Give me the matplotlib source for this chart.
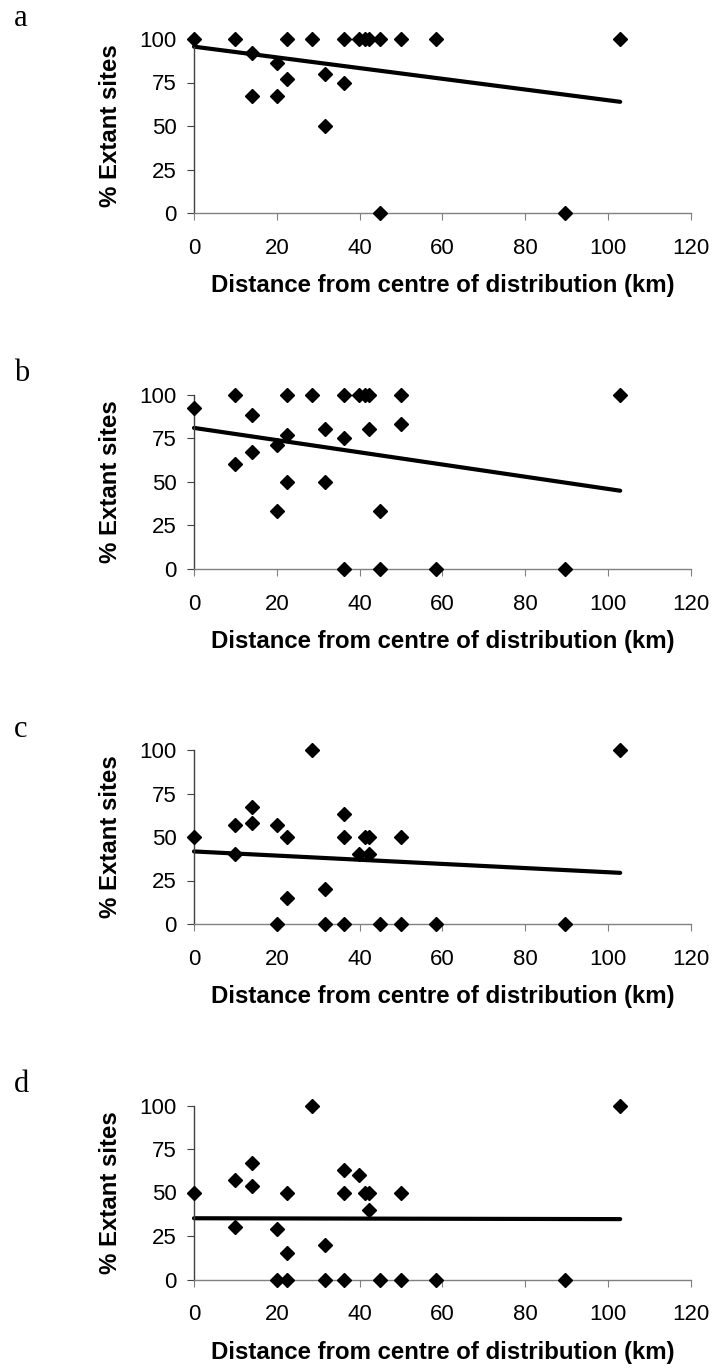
import numpy as np
import matplotlib
matplotlib.use("Agg")
import matplotlib.pyplot as plt

# distances (km) and % extant sites
dist_a = [0, 10, 14.1, 14.1, 20, 20, 22.4, 22.4, 28.4, 31.6, 31.6, 36.1, 36.1,
          39.9, 41.2, 42.3, 44.8, 44.8, 50.1, 58.4, 89.6, 102.9]
pct_a = [100, 100, 92, 67, 86, 67, 100, 77, 100, 80, 50, 100, 75,
         100, 100, 100, 100, 0, 100, 100, 0, 100]

dist_b = [0, 10, 10, 14.1, 14.1, 20, 20, 22.4, 22.4, 22.4, 28.4, 31.6, 31.6,
          36.1, 36.1, 36.1, 39.9, 41.2, 42.3, 42.3, 44.8, 44.8, 50.1, 50.1,
          58.4, 89.6, 102.9]
pct_b = [92, 100, 60, 88, 67, 71, 33, 100, 77, 50, 100, 80, 50,
         100, 75, 0, 100, 100, 100, 80, 33, 0, 100, 83,
         0, 0, 100]

dist_c = [0, 10, 10, 14.1, 14.1, 20, 20, 22.4, 22.4, 28.4, 31.6, 31.6,
          36.1, 36.1, 36.1, 39.9, 41.2, 42.3, 42.3, 44.8, 50.1, 50.1,
          58.4, 89.6, 102.9]
pct_c = [50, 57, 40, 67, 58, 57, 0, 50, 15, 100, 20, 0,
         63, 50, 0, 40, 50, 50, 40, 0, 50, 0,
         0, 0, 100]

dist_d = [0, 10, 10, 14.1, 14.1, 20, 20, 22.4, 22.4, 22.4, 28.4, 31.6, 31.6,
          36.1, 36.1, 36.1, 39.9, 41.2, 42.3, 42.3, 44.8, 50.1, 50.1,
          58.4, 89.6, 102.9]
pct_d = [50, 57, 30, 67, 54, 29, 0, 50, 15, 0, 100, 20, 0,
         63, 50, 0, 60, 50, 50, 40, 0, 50, 0,
         0, 0, 100]

# fitted trend lines (value at 0 km and at 102.9 km)
trend_x = [0, 102.9]
trend_a = [95.6, 63.9]
trend_b = [80.8, 44.7]
trend_c = [41.7, 29.4]
trend_d = [35.2, 34.7]

panel_letters = ["a", "b", "c", "d"]
xticks = [0, 20, 40, 60, 80, 100, 120]
yticks = [0, 25, 50, 75, 100]

panels = [
    (dist_a, pct_a, trend_a),
    (dist_b, pct_b, trend_b),
    (dist_c, pct_c, trend_c),
    (dist_d, pct_d, trend_d),
]

W, H = 714, 1369
fig = plt.figure(figsize=(W / 100, H / 100), dpi=100)
plt.rcParams["font.family"] = ["Liberation Sans", "DejaVu Sans"]

ax_left, ax_w, ax_h = 194, 497, 174
tops = [39, 394.5, 750, 1105.5]
yaxis_col = "#404040"
xaxis_col = "#808080"

for i, (xs, ys, tr) in enumerate(panels):
    top = tops[i]
    ax = fig.add_axes([ax_left / W, 1 - (top + ax_h) / H, ax_w / W, ax_h / H])
    ax.plot(trend_x, tr, color="black", lw=3.0, solid_capstyle="round",
            zorder=2, clip_on=False)
    ax.plot(xs, ys, ls="none", marker="D", ms=7.6, color="black",
            zorder=3, clip_on=False)
    ax.set_xlim(0, 120)
    ax.set_ylim(0, 100)
    ax.set_xticks(xticks)
    ax.set_yticks(yticks)
    for s in ["top", "right"]:
        ax.spines[s].set_visible(False)
    ax.spines["left"].set_color(yaxis_col)
    ax.spines["bottom"].set_color(xaxis_col)
    ax.spines["left"].set_linewidth(1.0)
    ax.spines["bottom"].set_linewidth(1.0)
    ax.tick_params(axis="both", direction="out", length=5, width=0.8,
                   labelsize=16, labelcolor="black")
    ax.tick_params(axis="x", pad=13, color=xaxis_col)
    ax.tick_params(axis="y", pad=7.5, color=yaxis_col)
    ax.set_xlabel("Distance from centre of distribution (km)",
                  fontsize=17.3, fontweight="bold")
    ax.set_ylabel("% Extant sites", fontsize=17.3, fontweight="bold")
    ax.xaxis.set_label_coords(0.5, -61 / ax_h)
    ax.yaxis.set_label_coords(-0.145, 0.5)
    ax.patch.set_alpha(0)

    fig.text(14 / W, 1 - (top - 13) / H, panel_letters[i],
             family="Liberation Serif", fontsize=22, ha="left", va="baseline")

fig.savefig("out.png", dpi=100)
